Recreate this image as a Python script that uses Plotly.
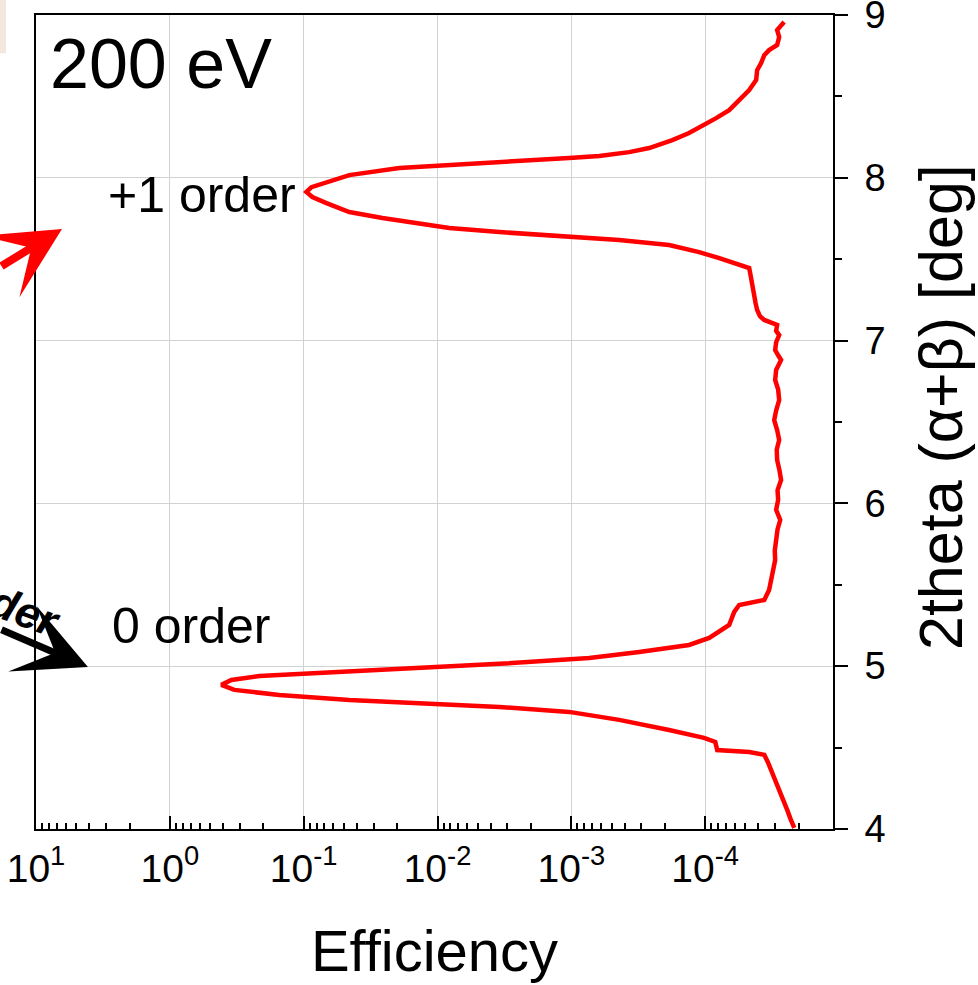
import plotly.graph_objects as go

# ---- data ----
theta = [8.957, 8.939, 8.908, 8.865, 8.816, 8.785, 8.754, 8.705, 8.662, 8.601,
         8.539, 8.478, 8.416, 8.367, 8.324, 8.275, 8.232, 8.183, 8.158, 8.134,
         8.122, 8.097, 8.079, 8.060, 8.017, 7.974, 7.943, 7.913, 7.882, 7.845,
         7.790, 7.753, 7.722, 7.692, 7.667, 7.642, 7.618, 7.587, 7.544, 7.507,
         7.464, 7.446, 7.410, 7.372, 7.330, 7.280, 7.230, 7.188, 7.150, 7.127,
         7.096, 7.060, 7.034, 6.990, 6.942, 6.910, 6.881, 6.820, 6.758, 6.700,
         6.635, 6.570, 6.512, 6.450, 6.389, 6.330, 6.267, 6.200, 6.144, 6.080,
         6.021, 5.960, 5.898, 5.840, 5.775, 5.710, 5.652, 5.600, 5.560, 5.510,
         5.468, 5.407, 5.376, 5.333, 5.253, 5.173, 5.130, 5.087, 5.050, 5.014,
         4.989, 4.964, 4.940, 4.915, 4.885, 4.854, 4.823, 4.792, 4.774, 4.749,
         4.719, 4.670, 4.608, 4.559, 4.534, 4.485, 4.473, 4.455, 4.410, 4.362,
         4.300, 4.240, 4.180, 4.117, 4.060, 4.006]
efficiency = [2.57e-5, 2.71e-5, 2.90e-5, 2.80e-5, 2.90e-5, 3.33e-5, 3.62e-5, 3.82e-5, 4.09e-5, 4.16e-5,
              4.69e-5, 5.57e-5, 6.62e-5, 8.28e-5, 1.02e-4, 1.32e-4, 1.76e-4, 2.62e-4, 3.70e-4, 6.19e-4,
              1.04e-3, 3.45e-3, 8.17e-3, 1.93e-2, 4.56e-2, 6.76e-2, 8.75e-2, 9.55e-2, 8.61e-2, 6.76e-2,
              4.56e-2, 2.58e-2, 1.44e-2, 8.17e-3, 3.45e-3, 1.23e-3, 4.39e-4, 1.86e-4, 1.11e-4, 7.85e-5,
              5.57e-5, 4.69e-5, 4.60e-5, 4.53e-5, 4.40e-5, 4.31e-5, 4.20e-5, 4.09e-5, 3.90e-5, 3.62e-5,
              2.90e-5, 2.95e-5, 2.80e-5, 2.95e-5, 3.00e-5, 2.85e-5, 2.71e-5, 2.95e-5, 3.00e-5, 2.85e-5,
              2.80e-5, 2.95e-5, 3.05e-5, 2.90e-5, 2.80e-5, 2.92e-5, 2.90e-5, 2.78e-5, 2.71e-5, 2.88e-5,
              2.85e-5, 2.95e-5, 2.75e-5, 2.88e-5, 2.95e-5, 3.02e-5, 3.00e-5, 3.08e-5, 3.16e-5, 3.25e-5,
              3.33e-5, 3.62e-5, 5.57e-5, 6.07e-5, 6.62e-5, 9.33e-5, 1.32e-4, 3.11e-4, 7.35e-4, 3.45e-3,
              1.37e-2, 6.43e-2, 0.214, 0.347, 0.412, 0.330, 0.152, 4.56e-2, 1.37e-2, 3.45e-3,
              1.04e-3, 4.39e-4, 1.86e-4, 1.02e-4, 8.41e-5, 8.13e-5, 4.69e-5, 3.62e-5, 3.40e-5, 3.21e-5,
              3.00e-5, 2.80e-5, 2.62e-5, 2.44e-5, 2.30e-5, 2.16e-5]

x_tick_vals = [10, 1, 0.1, 0.01, 1e-3, 1e-4]
x_tick_text = ["10<sup>1</sup>", "10<sup>0</sup>", "10<sup>-1</sup>", "10<sup>-2</sup>",
               "10<sup>-3</sup>", "10<sup>-4</sup>"]
x_minor_vals = [m * 10.0 ** k for k in range(-5, 1) for m in range(2, 10)]
y_tick_vals = [4, 5, 6, 7, 8, 9]
y_minor_vals = [4.5, 5.5, 6.5, 7.5, 8.5]

FONT = "Liberation Sans, Arial, sans-serif"
GRID = "#d2d2d2"

fig = go.Figure()
fig.add_trace(go.Scatter(x=efficiency, y=theta, mode="lines",
                         line=dict(color="#ff0000", width=4.5), showlegend=False))

fig.update_layout(
    width=978, height=985,
    margin=dict(l=36, r=145, t=15, b=156, autoexpand=False),
    plot_bgcolor="white", paper_bgcolor="white",
    font=dict(family=FONT, color="black"),
    showlegend=False,
)

fig.update_xaxes(
    type="log", range=[1, -4.955], autorange=False, automargin=False,
    tickmode="array", tickvals=x_tick_vals, ticktext=x_tick_text,
    ticks="inside", ticklen=13, tickwidth=2, tickcolor="black",
    minor=dict(tickmode="array", tickvals=x_minor_vals, ticks="inside", ticklen=6,
               tickwidth=1.5, tickcolor="black", showgrid=False),
    showline=True, linecolor="black", linewidth=2, mirror=True,
    showgrid=True, gridcolor=GRID, gridwidth=1, zeroline=False,
    tickfont=dict(size=39, family=FONT, color="black"),
    ticklabelstandoff=4, ticklabeloverflow="allow",
    title=dict(text="Efficiency", font=dict(size=58, family=FONT, color="black"), standoff=42),
)

fig.update_yaxes(
    side="right", range=[3.9995, 9.0005], autorange=False, automargin=False,
    tickmode="array", tickvals=y_tick_vals,
    ticks="outside", ticklen=13, tickwidth=2, tickcolor="black",
    minor=dict(tickmode="array", tickvals=y_minor_vals, ticks="outside", ticklen=7,
               tickwidth=2, tickcolor="black", showgrid=False),
    showline=True, linecolor="black", linewidth=2, mirror=True,
    showgrid=True, gridcolor=GRID, gridwidth=1, zeroline=False,
    tickfont=dict(size=38, family=FONT, color="black"),
    ticklabelstandoff=9, ticklabeloverflow="allow",
)

# y-axis title (rotated), placed like the reference
fig.add_annotation(xref="paper", yref="paper", x=1.1355, y=0.5184, xanchor="center", yanchor="middle",
                   text="2theta (α+β) [deg]", textangle=-90, showarrow=False,
                   font=dict(size=61, family=FONT, color="black"))

# text labels inside the plot
fig.add_annotation(xref="paper", yref="paper", x=0.015, y=0.9400, xanchor="left", yanchor="middle",
                   text="200 eV", showarrow=False, font=dict(size=70, family=FONT, color="black"))
fig.add_annotation(xref="paper", yref="paper", x=0.3285, y=0.7789, xanchor="right", yanchor="middle",
                   text="+1 order", showarrow=False, font=dict(size=50, family=FONT, color="black"))
fig.add_annotation(xref="paper", yref="paper", x=0.2960, y=0.2488, xanchor="right", yanchor="middle",
                   text="0 order", showarrow=False, font=dict(size=50, family=FONT, color="black"))

# arrows coming from the neighbouring (cropped) panel
fig.add_annotation(xref="paper", yref="paper", x=0.0326, y=0.7371, ax=-100, ay=38,
                   text="", showarrow=True, arrowhead=3, arrowsize=1.5, arrowwidth=8,
                   arrowcolor="#ff0000", standoff=0)
fig.add_annotation(xref="paper", yref="paper", x=0.0652, y=0.1990, ax=-110, ay=-38,
                   text="", showarrow=True, arrowhead=3, arrowsize=1.7, arrowwidth=7,
                   arrowcolor="black", standoff=0)
fig.add_annotation(xref="paper", yref="paper", x=-0.040, y=0.277, xanchor="center", yanchor="middle",
                   text="<b><i>order</i></b>", textangle=20, showarrow=False,
                   font=dict(size=44, family=FONT, color="black"))

# cropped beige fragment at the top-left corner
fig.add_shape(type="rect", xref="paper", yref="paper", x0=-0.06, x1=-0.0376, y0=0.953, y1=1.03,
              fillcolor="#f2e8dc", line=dict(width=0), layer="above")

fig.write_html("out.html")
